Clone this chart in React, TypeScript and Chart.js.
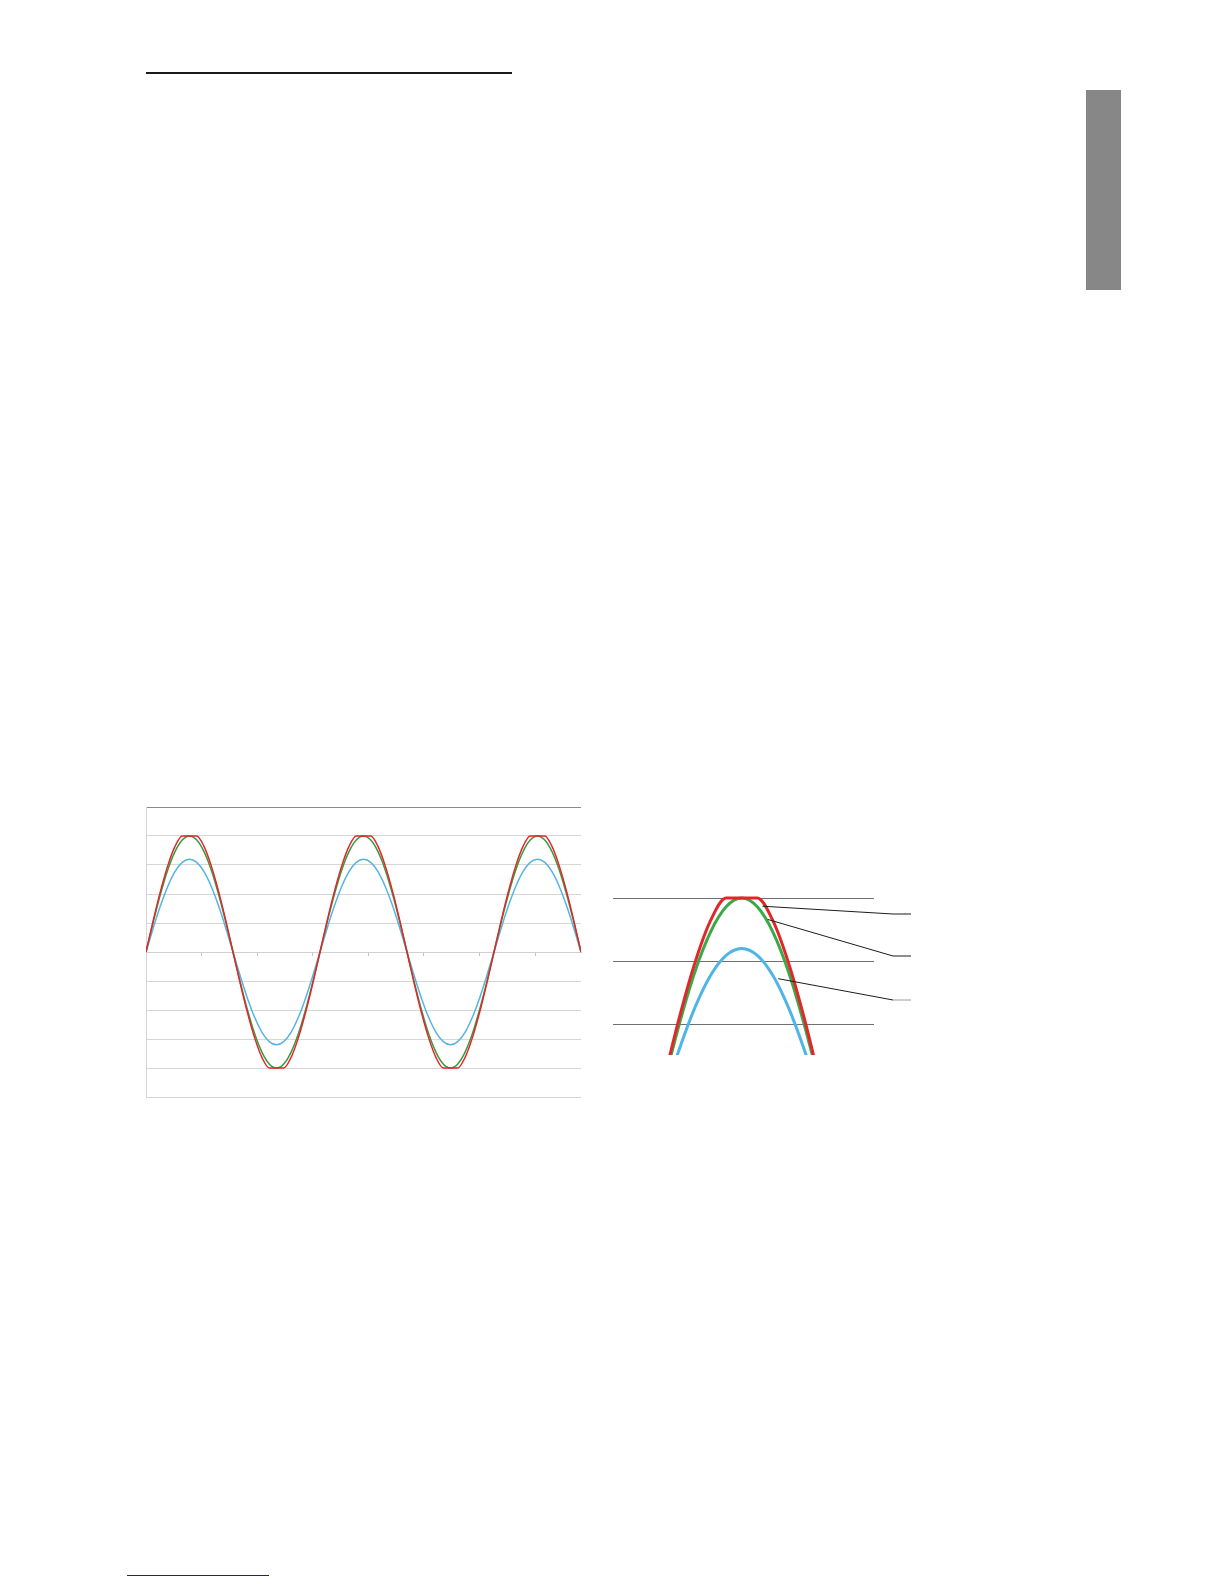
import { useEffect, useRef } from "react";
import { Chart, registerables } from "chart.js";

Chart.register(...registerables);

// phase angle in degrees, 2.5 periods
const degrees = [
  0, 15, 30, 45, 60, 75, 90, 105, 120, 135, 150, 165, 180, 195, 210, 225, 240, 255, 270, 285,
  300, 315, 330, 345, 360, 375, 390, 405, 420, 435, 450, 465, 480, 495, 510, 525, 540, 555, 570,
  585, 600, 615, 630, 645, 660, 675, 690, 705, 720, 735, 750, 765, 780, 795, 810, 825, 840, 855,
  870, 885, 900,
];

// clipped wave (red)
const clippedWave = [
  0, 1.09, 2.1, 2.97, 3.64, 4.0, 4.0, 4.0, 3.64, 2.97, 2.1, 1.09,
  0, -1.09, -2.1, -2.97, -3.64, -4.0, -4.0, -4.0, -3.64, -2.97, -2.1, -1.09,
  0, 1.09, 2.1, 2.97, 3.64, 4.0, 4.0, 4.0, 3.64, 2.97, 2.1, 1.09,
  0, -1.09, -2.1, -2.97, -3.64, -4.0, -4.0, -4.0, -3.64, -2.97, -2.1, -1.09,
  0, 1.09, 2.1, 2.97, 3.64, 4.0, 4.0, 4.0, 3.64, 2.97, 2.1, 1.09,
  0,
];

// full sine (green)
const fullWave = [
  0, 1.04, 2.0, 2.83, 3.46, 3.86, 4.0, 3.86, 3.46, 2.83, 2.0, 1.04,
  0, -1.04, -2.0, -2.83, -3.46, -3.86, -4.0, -3.86, -3.46, -2.83, -2.0, -1.04,
  0, 1.04, 2.0, 2.83, 3.46, 3.86, 4.0, 3.86, 3.46, 2.83, 2.0, 1.04,
  0, -1.04, -2.0, -2.83, -3.46, -3.86, -4.0, -3.86, -3.46, -2.83, -2.0, -1.04,
  0, 1.04, 2.0, 2.83, 3.46, 3.86, 4.0, 3.86, 3.46, 2.83, 2.0, 1.04,
  0,
];

// reduced sine (blue)
const reducedWave = [
  0, 0.83, 1.6, 2.26, 2.77, 3.09, 3.2, 3.09, 2.77, 2.26, 1.6, 0.83,
  0, -0.83, -1.6, -2.26, -2.77, -3.09, -3.2, -3.09, -2.77, -2.26, -1.6, -0.83,
  0, 0.83, 1.6, 2.26, 2.77, 3.09, 3.2, 3.09, 2.77, 2.26, 1.6, 0.83,
  0, -0.83, -1.6, -2.26, -2.77, -3.09, -3.2, -3.09, -2.77, -2.26, -1.6, -0.83,
  0, 0.83, 1.6, 2.26, 2.77, 3.09, 3.2, 3.09, 2.77, 2.26, 1.6, 0.83,
  0,
];

const xTickDegrees = [0, 115, 230, 345, 460, 575, 690, 805];
const detailTicks = [2, 3, 4];

// where the callout lines touch each curve (deg, value) in the detail view
const calloutDeg = [110, 115, 125];
const calloutValue = [3.87, 3.66, 2.72];

const toPoints = (vals: number[]) => degrees.map((d, i) => ({ x: d, y: vals[i] }));

function makeDatasets(width: number, colors: string[]) {
  return [
    { label: "clipped", data: toPoints(clippedWave), borderColor: colors[0], borderWidth: width },
    { label: "full", data: toPoints(fullWave), borderColor: colors[1], borderWidth: width },
    { label: "reduced", data: toPoints(reducedWave), borderColor: colors[2], borderWidth: width },
  ].map((d) => ({ ...d, pointRadius: 0, fill: false, cubicInterpolationMode: "monotone" as const }));
}

function WaveChart() {
  const canvasRef = useRef<HTMLCanvasElement>(null);

  useEffect(() => {
    if (!canvasRef.current) return;
    const chart = new Chart(canvasRef.current, {
      type: "line",
      data: { datasets: makeDatasets(1.5, ["#e3262b", "#3a9a3e", "#56b4e4"]) as any },
      options: {
        animation: false,
        responsive: true,
        maintainAspectRatio: false,
        layout: { padding: { left: 6, top: 7, right: 9, bottom: 8 } },
        plugins: { legend: { display: false }, tooltip: { enabled: false } },
        scales: {
          x: {
            type: "linear",
            min: 0,
            max: 900,
            position: { y: 0 } as any,
            afterBuildTicks: (s: any) => {
              s.ticks = xTickDegrees.map((v) => ({ value: v }));
            },
            ticks: { display: false },
            grid: { drawOnChartArea: false, drawTicks: true, tickLength: 3, color: "#c4c4c4" },
            border: { display: true, color: "#d0d0d0" },
          },
          y: {
            type: "linear",
            min: -5,
            max: 5,
            ticks: { display: false, stepSize: 1 },
            grid: {
              drawTicks: false,
              color: (c: any) => (c.tick && c.tick.value === 5 ? "#8a8a8a" : "#d6d6d6"),
            },
            border: { display: true, color: "#d6d6d6" },
          },
        },
      },
    });
    return () => chart.destroy();
  }, []);

  return (
    <div style={{ position: "absolute", left: 140, top: 800, width: 450, height: 305 }}>
      <canvas ref={canvasRef} />
    </div>
  );
}

const calloutPlugin = {
  id: "callouts",
  afterDatasetsDraw(chart: any) {
    const { ctx, scales } = chart;
    const ends = [44, 86, 130];
    ctx.save();
    ctx.lineWidth = 1;
    calloutDeg.forEach((d, i) => {
      const x0 = scales.x.getPixelForValue(d);
      const y0 = scales.y.getPixelForValue(calloutValue[i]);
      ctx.strokeStyle = "#1c1c1c";
      ctx.beginPath();
      ctx.moveTo(x0, y0);
      ctx.lineTo(293, ends[i]);
      ctx.stroke();
      ctx.strokeStyle = i === 2 ? "#9a9a9a" : "#1c1c1c";
      ctx.beginPath();
      ctx.moveTo(293, ends[i]);
      ctx.lineTo(311, ends[i]);
      ctx.stroke();
    });
    ctx.restore();
  },
};

function DetailChart() {
  const canvasRef = useRef<HTMLCanvasElement>(null);

  useEffect(() => {
    if (!canvasRef.current) return;
    const chart = new Chart(canvasRef.current, {
      type: "line",
      data: { datasets: makeDatasets(3, ["#e3262b", "#3aa846", "#4fb4e8"]) as any },
      options: {
        animation: false,
        responsive: true,
        maintainAspectRatio: false,
        layout: { padding: { left: 13, top: 10, right: 46, bottom: 10 } },
        plugins: { legend: { display: false }, tooltip: { enabled: false } },
        scales: {
          x: { type: "linear", min: -33.75, max: 217.2, display: false },
          y: {
            type: "linear",
            min: 1.508,
            max: 4.286,
            afterBuildTicks: (s: any) => {
              s.ticks = detailTicks.map((v) => ({ value: v }));
            },
            ticks: { display: false },
            grid: { drawTicks: false, color: "#707070" },
            border: { display: false },
          },
        },
      },
      plugins: [calloutPlugin],
    });
    return () => chart.destroy();
  }, []);

  return (
    <div style={{ position: "absolute", left: 600, top: 870, width: 320, height: 195 }}>
      <canvas ref={canvasRef} />
    </div>
  );
}

export default function App() {
  return (
    <div style={{ position: "absolute", left: 0, top: 0, width: 1224, height: 1584, background: "#fff" }}>
      <div style={{ position: "absolute", left: 146, top: 72, width: 366, height: 2, background: "#1a1a1a" }} />
      <div style={{ position: "absolute", left: 1086, top: 90, width: 35, height: 200, background: "#878787" }} />
      <WaveChart />
      <DetailChart />
      <div style={{ position: "absolute", left: 127, top: 1575, width: 142, height: 1, background: "#1f1f85" }} />
    </div>
  );
}
